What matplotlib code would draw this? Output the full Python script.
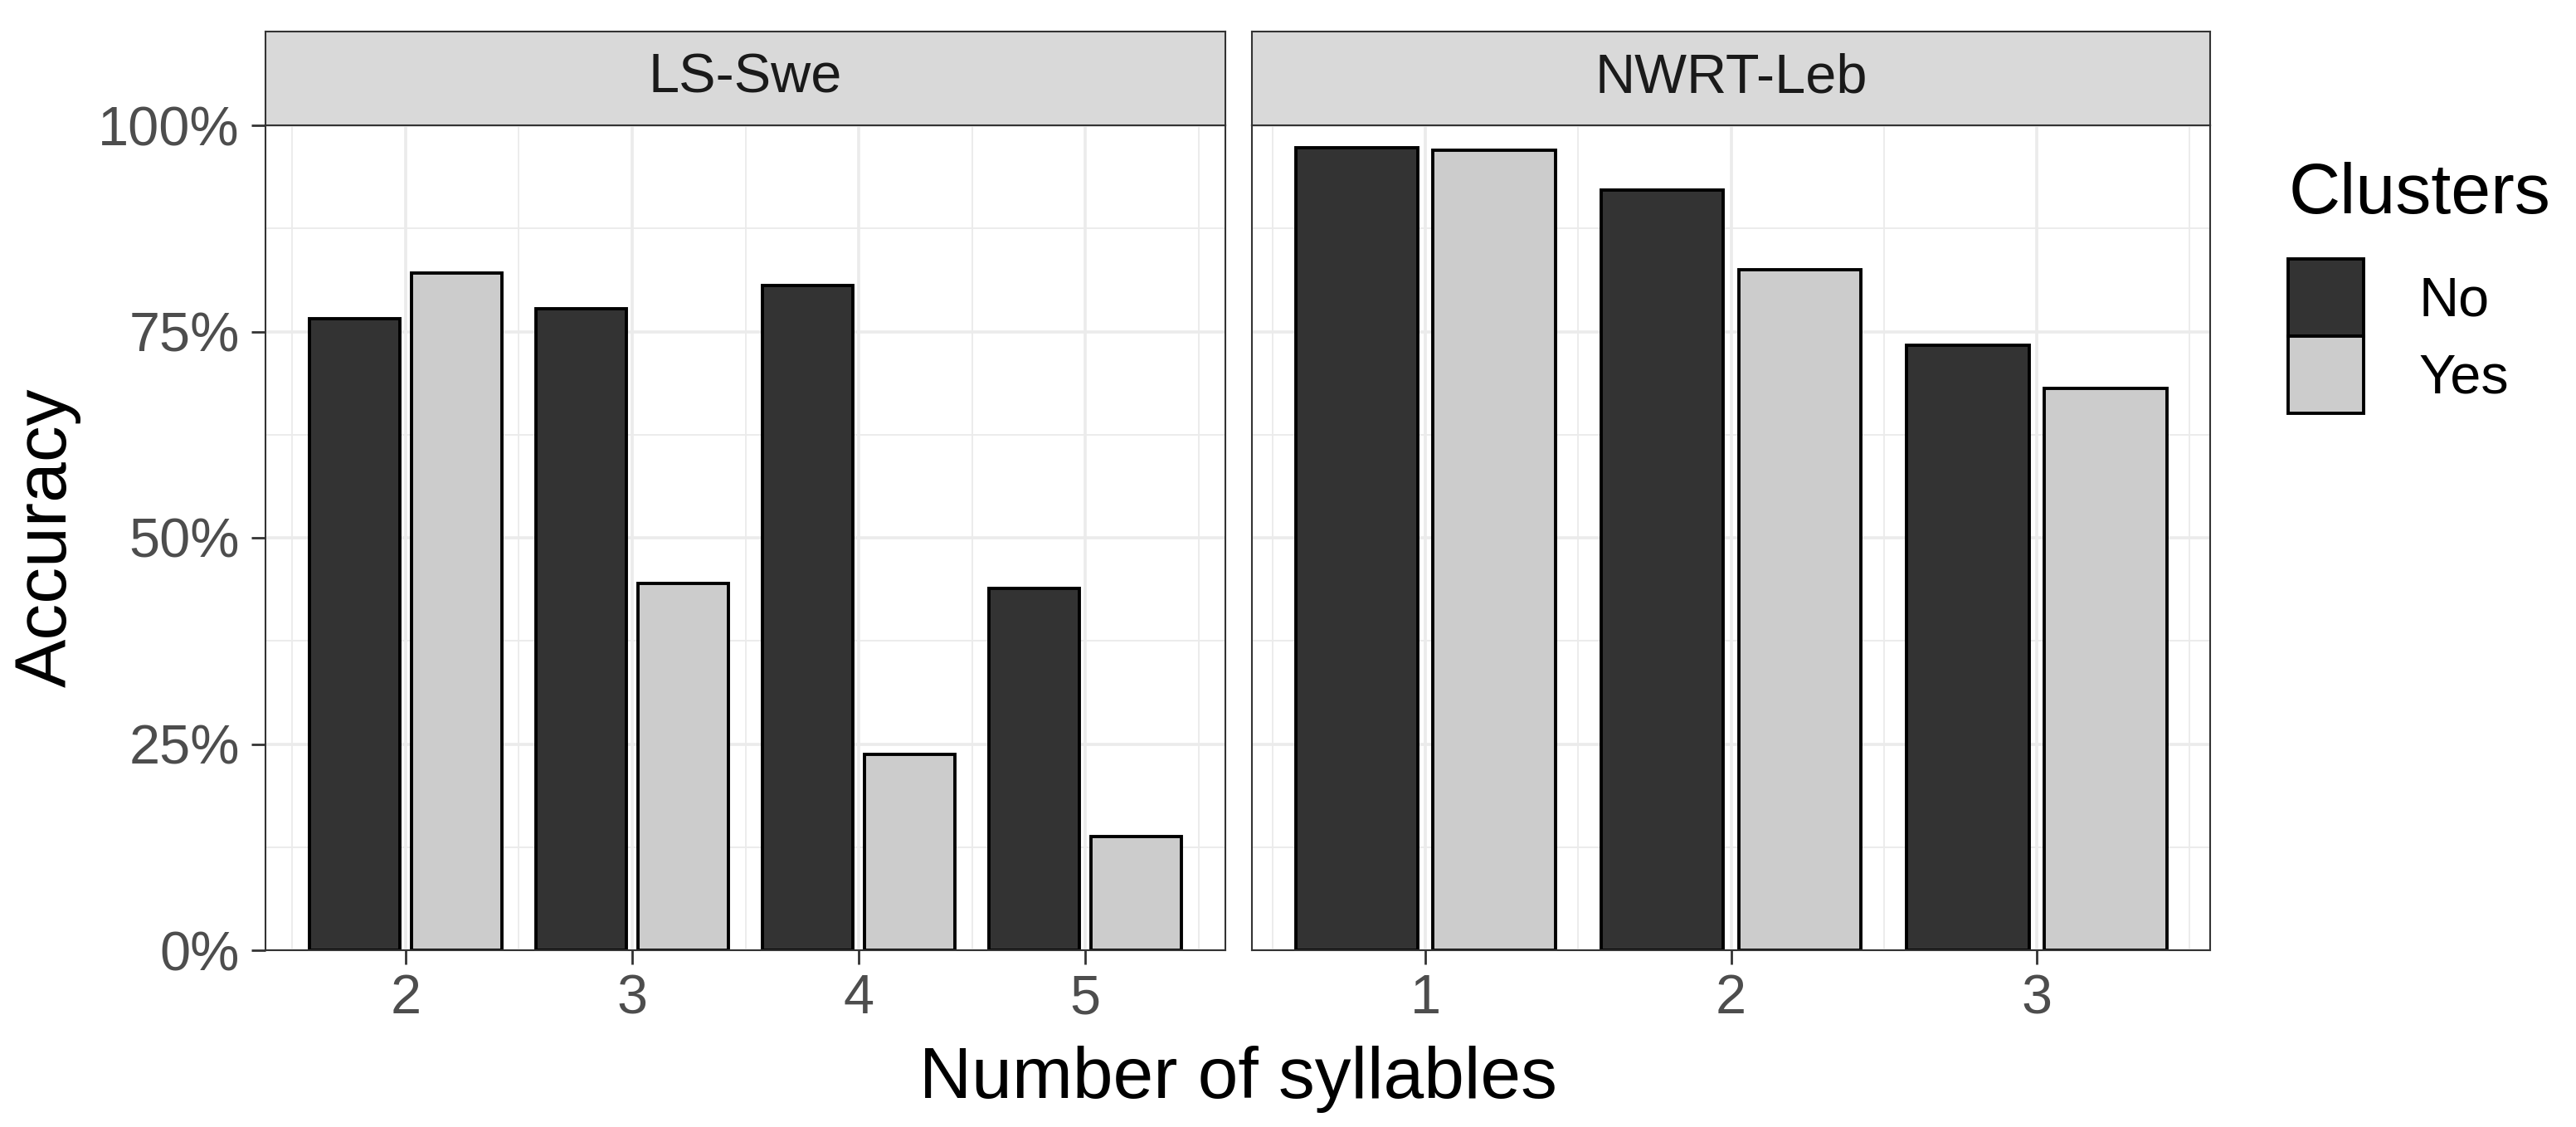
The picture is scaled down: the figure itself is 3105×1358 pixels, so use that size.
import matplotlib
matplotlib.use("Agg")
import matplotlib.pyplot as plt
from matplotlib.patches import Patch
from matplotlib.ticker import PercentFormatter, AutoMinorLocator, FixedLocator

plt.rcParams["font.family"] = ["Liberation Sans", "DejaVu Sans"]

# data
panels = ["LS-Swe", "NWRT-Leb"]
ls_syll = [2, 3, 4, 5]
ls_no = [0.766, 0.778, 0.806, 0.439]
ls_yes = [0.821, 0.445, 0.237, 0.138]
nw_syll = [1, 2, 3]
nw_no = [0.973, 0.922, 0.733]
nw_yes = [0.970, 0.825, 0.681]
groups = ["No", "Yes"]

FILL = {"No": "#333333", "Yes": "#CCCCCC"}
BORDER = "#333333"
GRID = "#EBEBEB"
EDGE_LW = 1.4

W, H = 3105, 1358
DPI = 200
fig = plt.figure(figsize=(W / DPI, H / DPI), dpi=DPI)


def px_rect(x0, y0, x1, y1):
    # pixel box (top-left origin) -> figure fraction
    return [x0 / W, 1 - y1 / H, (x1 - x0) / W, (y1 - y0) / H]


panel_x = [(320, 1477), (1509, 2664)]
data = [(ls_syll, ls_no, ls_yes), (nw_syll, nw_no, nw_yes)]

for (x0, x1), name, (syll, no, yes) in zip(panel_x, panels, data):
    ax = fig.add_axes(px_rect(x0, 151, x1, 1145))
    ax.set_axisbelow(True)
    xs_no = [s - 0.225 for s in syll]
    xs_yes = [s + 0.225 for s in syll]
    ax.bar(xs_no, no, width=0.4, color=FILL["No"], edgecolor="black", linewidth=EDGE_LW)
    ax.bar(xs_yes, yes, width=0.4, color=FILL["Yes"], edgecolor="black", linewidth=EDGE_LW)

    # ggplot-style 5% expansion around the dodged bars
    lo, hi = min(syll) - 0.425, max(syll) + 0.425
    pad = 0.05 * (hi - lo)
    ax.set_xlim(lo - pad, hi + pad)
    ax.set_ylim(0, 1)
    ax.xaxis.set_major_locator(FixedLocator(syll))
    ax.xaxis.set_minor_locator(AutoMinorLocator(2))
    ax.set_yticks([0, 0.25, 0.5, 0.75, 1.0])
    ax.yaxis.set_minor_locator(AutoMinorLocator(2))
    ax.yaxis.set_major_formatter(PercentFormatter(xmax=1, decimals=0))
    ax.grid(which="major", color=GRID, linewidth=1.3)
    ax.grid(which="minor", color=GRID, linewidth=0.65)
    ax.tick_params(which="minor", length=0)
    ax.tick_params(which="major", length=6.2, width=1.0, color=BORDER,
                   labelsize=24, labelcolor="#4D4D4D")
    ax.tick_params(axis="x", pad=4)
    ax.tick_params(axis="y", pad=5)
    for sp in ax.spines.values():
        sp.set_color(BORDER)
        sp.set_linewidth(0.75)
    if name != panels[0]:
        ax.tick_params(axis="y", which="both", left=False, labelleft=False)

    strip = fig.add_axes(px_rect(x0, 38, x1, 151))
    strip.set_facecolor("#D9D9D9")
    strip.set_xticks([])
    strip.set_yticks([])
    for sp in strip.spines.values():
        sp.set_color(BORDER)
        sp.set_linewidth(0.75)
    strip.text(0.5, 0.5, name, ha="center", va="center", fontsize=24,
               color="#1A1A1A", transform=strip.transAxes)

fig.text(1492 / W, 1 - 1323 / H, "Number of syllables", ha="center",
         va="baseline", fontsize=31.5, color="black")
fig.text(57 / W, 1 - 648 / H, "Accuracy", ha="center", va="center",
         rotation=90, fontsize=31.5, color="black")

# legend
fig.text(2759 / W, 1 - 257 / H, "Clusters", ha="left", va="baseline",
         fontsize=31, color="black")
handles = [Patch(facecolor=FILL[g], edgecolor="black", linewidth=EDGE_LW) for g in groups]
fig.legend(handles, groups, loc="upper left", bbox_to_anchor=(2758 / W, 1 - 312 / H),
           frameon=False, fontsize=24, handlelength=1.36, handleheight=1.77,
           handletextpad=1.0, labelspacing=0.0, borderpad=0, borderaxespad=0)

fig.savefig("out.png", dpi=DPI)
